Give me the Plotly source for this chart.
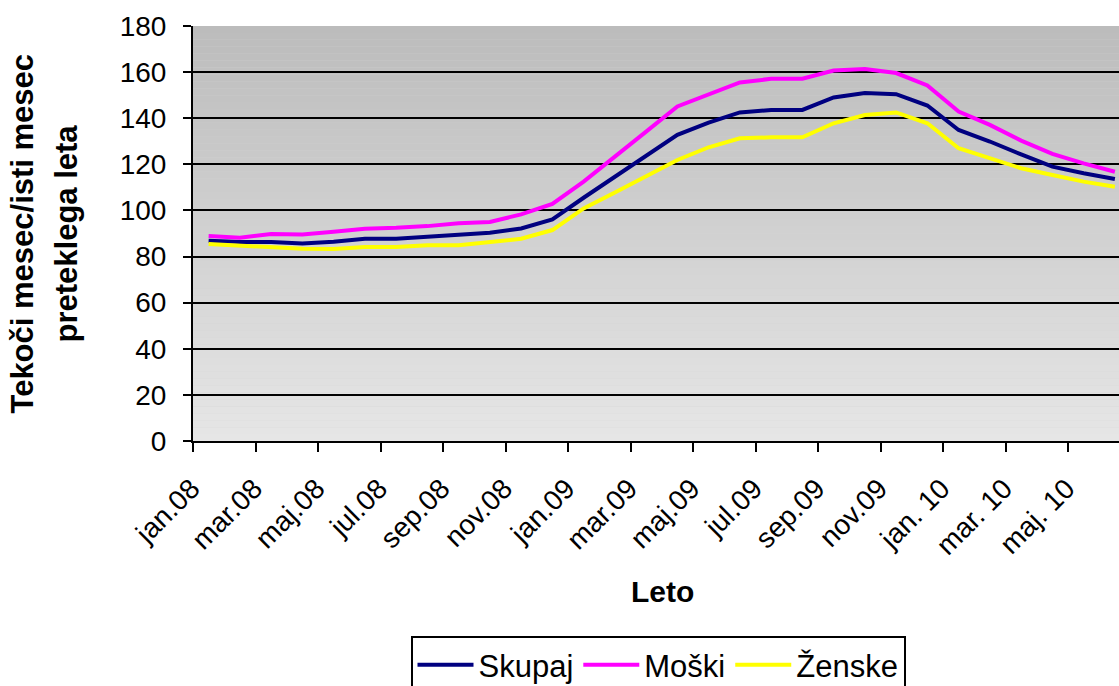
import plotly.graph_objects as go

months = ["jan.08","feb.08","mar.08","apr.08","maj.08","jun.08","jul.08","avg.08","sep.08","okt.08","nov.08","dec.08",
          "jan.09","feb.09","mar.09","apr.09","maj.09","jun.09","jul.09","avg.09","sep.09","okt.09","nov.09","dec.09",
          "jan.10","feb.10","mar.10","apr.10","maj.10","jun.10"]
tick_labels = ["jan.08","mar.08","maj.08","jul.08","sep.08","nov.08","jan.09","mar.09","maj.09","jul.09",
               "sep.09","nov.09","jan. 10","mar. 10","maj. 10"]

skupaj = [86.9, 86.3, 86.3, 85.7, 86.4, 87.7, 87.7, 88.6, 89.2, 90.3, 92.2, 96.1,
          105.5, 114.6, 123.6, 132.8, 138.1, 142.5, 143.6, 143.6, 149.0, 150.9, 150.4, 145.5,
          134.9, 129.9, 124.3, 119.0, 116.1, 113.6]
moski = [88.9, 88.2, 89.8, 89.6, 90.8, 92.1, 92.5, 93.2, 94.4, 95.0, 98.3, 102.8,
         112.5, 123.6, 134.2, 145.1, 150.4, 155.5, 157.1, 157.1, 160.7, 161.3, 159.6, 154.2,
         142.9, 137.1, 130.3, 124.5, 120.4, 116.8]
zenske = [85.4, 84.7, 84.3, 83.4, 83.3, 84.1, 84.1, 84.9, 84.9, 86.4, 87.7, 91.5,
          100.9, 107.8, 114.8, 121.9, 127.4, 131.3, 131.7, 131.7, 137.8, 141.4, 142.5, 137.8,
          127.0, 122.6, 118.3, 115.4, 112.5, 110.3]

x = list(range(len(months)))
FONT = "Liberation Sans, Arial, sans-serif"
W, H = 1119, 686
L, T, B = 193, 26, 245
PW, PH = W - L, H - T - B

fig = go.Figure()
for name, vals, col in [("Skupaj", skupaj, "#000080"), ("Moški", moski, "#FF00FF"), ("Ženske", zenske, "#FFFF00")]:
    fig.add_trace(go.Scatter(x=x, y=vals, name=name, mode="lines",
                             line=dict(color=col, width=4), customdata=months,
                             hovertemplate="%{customdata}: %{y}<extra>" + name + "</extra>"))

# gradient background bands
n = 60
top_c, bot_c = 188, 230
shapes = []
for k in range(n):
    t = (k + 0.5) / n
    g = int(round(bot_c + (top_c - bot_c) * t))
    shapes.append(dict(type="rect", xref="x domain", yref="y domain", x0=0, x1=1,
                       y0=k / n, y1=(k + 1) / n, fillcolor=f"rgb({g},{g},{g})",
                       line=dict(width=0), layer="below"))

fig.update_layout(
    width=W, height=H,
    margin=dict(l=L, r=0, t=T, b=B, autoexpand=False),
    paper_bgcolor="white", plot_bgcolor="rgb(210,210,210)",
    font=dict(family=FONT, size=28, color="black"),
    shapes=shapes,
    showlegend=True,
    legend=dict(orientation="h", xref="container", yref="container", x=658 / W, y=1 - 636 / H,
                xanchor="center", yanchor="top", bordercolor="black", borderwidth=2,
                bgcolor="white", font=dict(size=31, family=FONT), itemwidth=56,
                tracegroupgap=0),
    annotations=[
        dict(text="<b>Tekoči mesec/isti mesec</b>", xref="paper", yref="paper", x=(22 - L) / PW, y=0.5,
             xanchor="center", yanchor="middle", textangle=-90, showarrow=False,
             font=dict(size=31, family=FONT)),
        dict(text="<b>preteklega leta</b>", xref="paper", yref="paper", x=(66 - L) / PW, y=0.5,
             xanchor="center", yanchor="middle", textangle=-90, showarrow=False,
             font=dict(size=31, family=FONT)),
        dict(text="<b>Leto</b>", xref="paper", yref="paper", x=(662 - L) / PW, y=-(591 - (T + PH)) / PH,
             xanchor="center", yanchor="middle", showarrow=False, font=dict(size=30, family=FONT)),
    ],
)

fig.update_xaxes(
    range=[-0.5, -0.5 + PW / 31.25], showgrid=False, zeroline=False, automargin=False,
    showline=True, linecolor="black", linewidth=2,
    tickmode="array", tickvals=list(range(0, 30, 2)), ticktext=tick_labels,
    tickangle=-45, ticks="outside", ticklen=0, tickwidth=0,
    tickfont=dict(size=28, family=FONT), ticklabelstandoff=18, ticklabelshift=-17,
    minor=dict(tickmode="array", tickvals=[i + 1.5 for i in range(-2, 28, 2)],
               ticks="outside", ticklen=9, tickwidth=2, tickcolor="black", showgrid=False),
)
fig.update_yaxes(
    range=[0, 180], tickmode="array", tickvals=list(range(0, 181, 20)), automargin=False,
    showgrid=True, gridcolor="black", gridwidth=2, zeroline=False,
    showline=True, linecolor="black", linewidth=2,
    ticks="outside", ticklen=8, tickwidth=2, tickcolor="black",
    tickfont=dict(size=28, family=FONT), ticklabelstandoff=11,
)

fig.write_html("out.html", config={"displayModeBar": False},
               post_script="document.body.style.margin='0';document.body.style.overflow='hidden';")
